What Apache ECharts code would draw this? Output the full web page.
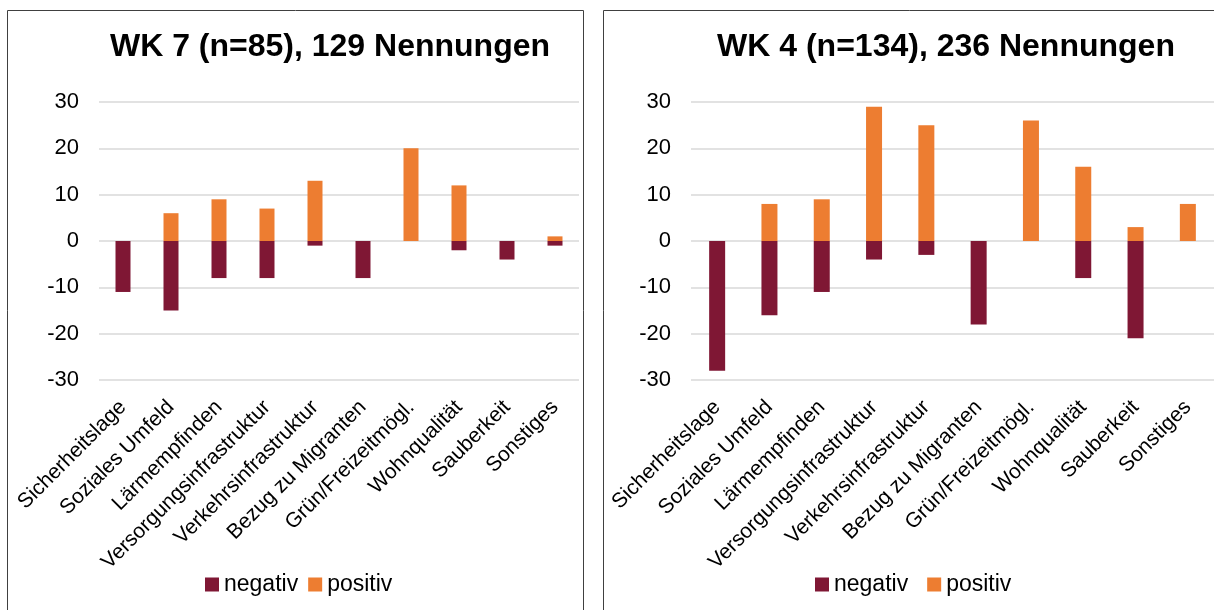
<!DOCTYPE html>
<html><head><meta charset="utf-8">
<script src="https://cdn.jsdelivr.net/npm/echarts@6/dist/echarts.min.js"></script>
<style>html,body{margin:0;padding:0;background:#fff}#c{width:1214px;height:610px}</style>
</head><body><div id="c"></div>
<script>
const categories = ['Sicherheitslage','Soziales Umfeld','Lärmempfinden','Versorgungsinfrastruktur','Verkehrsinfrastruktur','Bezug zu Migranten','Grün/Freizeitmögl.','Wohnqualität','Sauberkeit','Sonstiges'];
const titleLeft = 'WK 7 (n=85), 129 Nennungen';
const titleRight = 'WK 4 (n=134), 236 Nennungen';
const negLeft = [-11, -15, -8, -8, -1, -8, 0, -2, -4, -1];
const posLeft = [0, 6, 9, 7, 13, 0, 20, 12, 0, 1];
const negRight = [-28, -16, -11, -4, -3, -18, 0, -8, -21, 0];
const posRight = [0, 8, 9, 29, 25, 0, 26, 16, 3, 8];
const yTicks = {min: -30, max: 30, interval: 10};

const FONT = 'Liberation Sans, Arial, sans-serif';
const chart = echarts.init(document.getElementById('c'), null, {renderer: 'canvas'});
function xAxis(gi) {
  return {type: 'category', gridIndex: gi, data: categories,
    axisLine: {show: false}, axisTick: {show: false},
    axisLabel: {rotate: 45, interval: 0, color: '#000', fontFamily: FONT, fontSize: 21, margin: 24}};
}
function yAxis(gi) {
  return {type: 'value', gridIndex: gi, min: yTicks.min, max: yTicks.max, interval: yTicks.interval,
    axisLine: {show: false}, axisTick: {show: false},
    splitLine: {lineStyle: {color: '#d9d9d9', width: 1.5}},
    axisLabel: {color: '#000', fontFamily: FONT, fontSize: 22, margin: 20}};
}
function bars(name, data, gi, color, w) {
  return {name: name, type: 'bar', stack: 's' + gi, xAxisIndex: gi, yAxisIndex: gi,
    data: data, barWidth: w, itemStyle: {color: color}};
}
const NEG = '#7f1734', POS = '#ed7d31';
chart.setOption({
  animation: false,
  graphic: [
    {type: 'rect', shape: {x: 7.5, y: 10.5, width: 576, height: 610}, style: {fill: 'none', stroke: '#404040', lineWidth: 1}},
    {type: 'rect', shape: {x: 603.5, y: 10.5, width: 620, height: 610}, style: {fill: 'none', stroke: '#404040', lineWidth: 1}}
  ],
  title: [
    {text: titleLeft, left: 325, top: 26, textAlign: 'center', textStyle: {fontFamily: FONT, fontSize: 32, fontWeight: 'bold', color: '#000'}},
    {text: titleRight, left: 941, top: 26, textAlign: 'center', textStyle: {fontFamily: FONT, fontSize: 32, fontWeight: 'bold', color: '#000'}}
  ],
  legend: [
    {data: ['negativ', 'positiv'], left: 200, top: 568, icon: 'rect', itemWidth: 14, itemHeight: 14, itemGap: 10,
      textStyle: {fontFamily: FONT, fontSize: 23, color: '#000'}},
    {data: ['negativ', 'positiv'], left: 810, top: 568, icon: 'rect', itemWidth: 14, itemHeight: 14, itemGap: 19,
      textStyle: {fontFamily: FONT, fontSize: 23, color: '#000'}}
  ],
  grid: [
    {left: 99, right: 635, top: 102, bottom: 230},
    {left: 691, right: -3, top: 102, bottom: 230}
  ],
  xAxis: [xAxis(0), xAxis(1)],
  yAxis: [yAxis(0), yAxis(1)],
  series: [
    bars('negativ', negLeft, 0, NEG, 15), bars('positiv', posLeft, 0, POS, 15),
    bars('negativ', negRight, 1, NEG, 16), bars('positiv', posRight, 1, POS, 16)
  ]
});
</script></body></html>
